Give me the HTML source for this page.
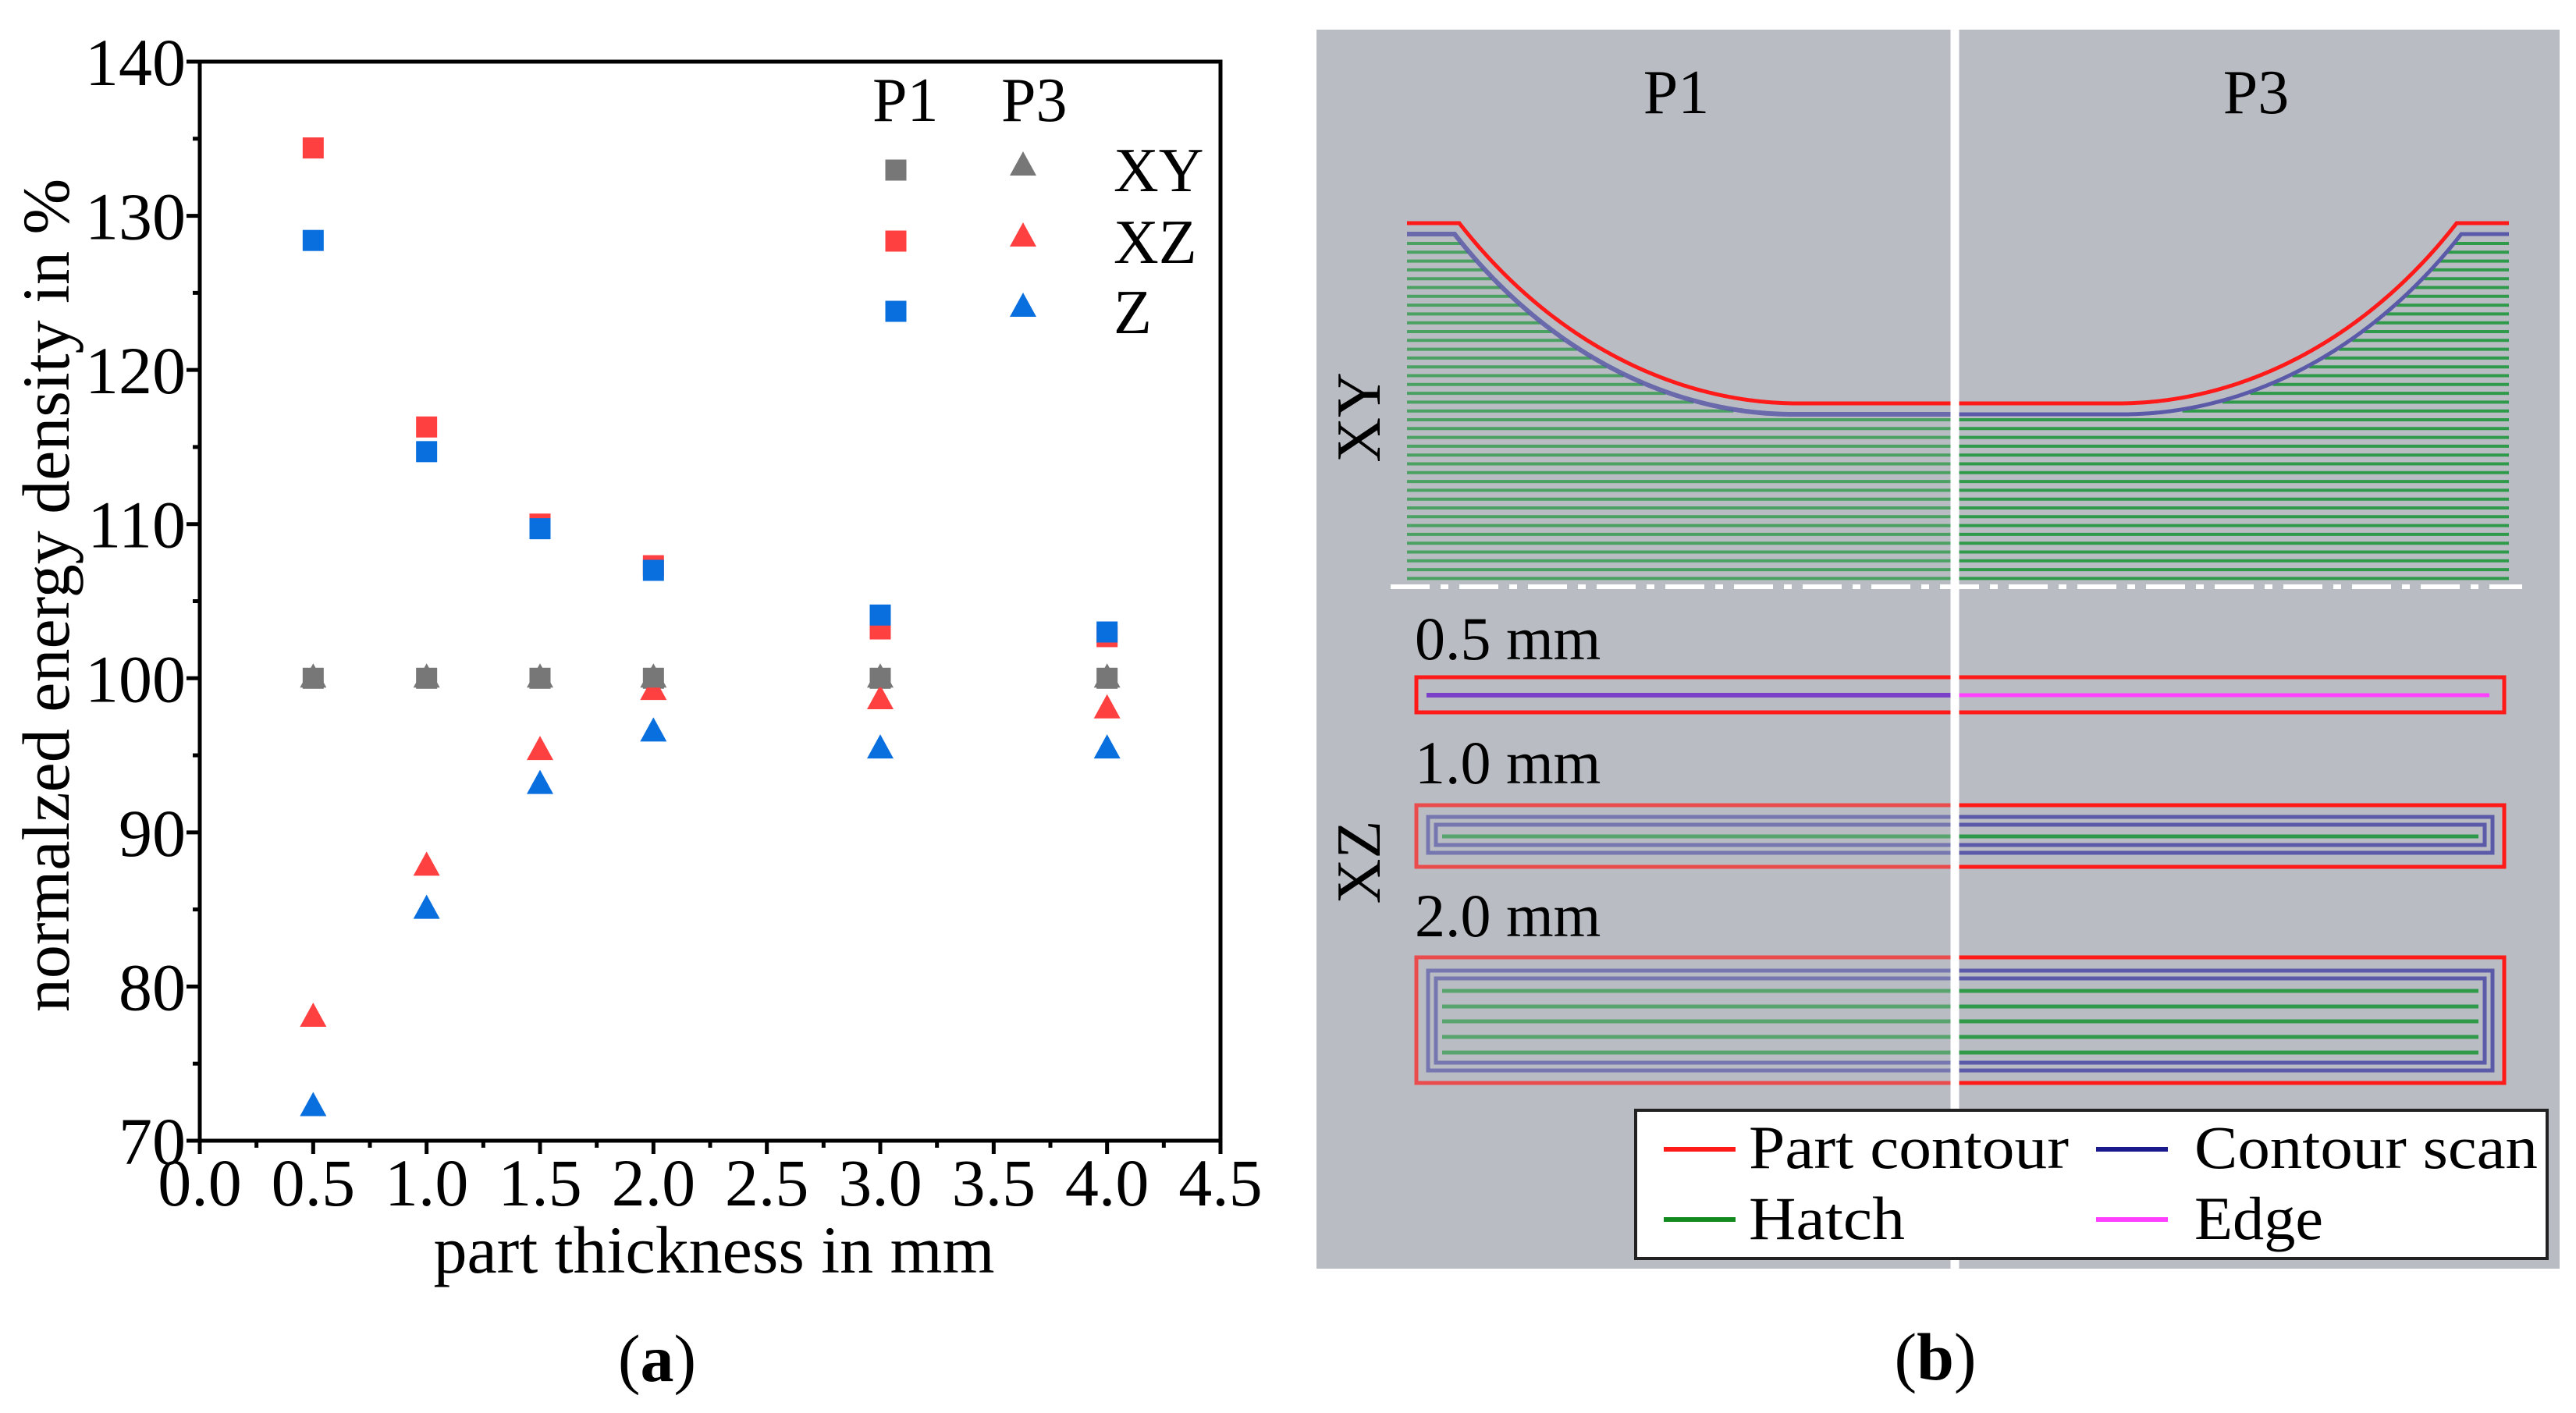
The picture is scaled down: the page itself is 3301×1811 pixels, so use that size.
<!DOCTYPE html>
<html><head><meta charset="utf-8"><style>
html,body{margin:0;padding:0;background:#fff;}
svg{display:block;font-family:"Liberation Serif",serif;}
</style></head><body>
<svg id="fig" width="3301" height="1811" viewBox="0 0 3301 1811">
<rect x="0" y="0" width="3301" height="1811" fill="#fff"/>
<g id="chartA"></g>
<g id="panelB"></g>
</svg>
<script>
// ---- chart data ----
const thickness = [0.5, 1.0, 1.5, 2.0, 3.0, 4.0];
const xyP1 = [100, 100, 100, 100, 100, 100];
const xyP3 = [100, 100, 100, 100, 100, 100];
const xzP1 = [134.4, 116.3, 110.0, 107.3, 103.2, 102.7];
const zP1 = [128.4, 114.7, 109.7, 107.0, 104.1, 103.0];
const xzP3 = [78.0, 87.8, 95.3, 99.2, 98.6, 98.0];
const zP3 = [72.2, 85.0, 93.1, 96.5, 95.4, 95.4];
const xTicks = ["0.0","0.5","1.0","1.5","2.0","2.5","3.0","3.5","4.0","4.5"];
const yTicks = ["70","80","90","100","110","120","130","140"];

const NS = "http://www.w3.org/2000/svg";
function mk(parent, tag, attrs, text){
  const e = document.createElementNS(NS, tag);
  for (const k in attrs) e.setAttribute(k, attrs[k]);
  if (text !== undefined) e.textContent = text;
  parent.appendChild(e);
  return e;
}
const X0=256, X1=1564, Y0=1462, Y1=79;
const xs = v => X0 + (v-0)/(4.5-0)*(X1-X0);
const ys = v => Y0 - (v-70)/(140-70)*(Y0-Y1);
const GREY="#777777", RED="#ff4040", BLUE="#0a6fde";

const A = document.getElementById('chartA');
let e;
e = mk(A,'rect',{x:X0,y:Y1,width:X1-X0,height:Y0-Y1,fill:'none',stroke:'#000','stroke-width':5});
 
xTicks.forEach((t,i)=>{
  const v = parseFloat(t), x = xs(v);
  const tk = mk(A,'line',{x1:x,y1:Y0,x2:x,y2:Y0+17,stroke:'#000','stroke-width':5});
   
  const lb = mk(A,'text',{x:x,y:Y0+83,'font-size':86,'text-anchor':'middle'},t);
   
  if (i < xTicks.length-1){
    const xm = xs(v+0.25);
    const mt = mk(A,'line',{x1:xm,y1:Y0,x2:xm,y2:Y0+9,stroke:'#000','stroke-width':5});
     
  }
});
yTicks.forEach((t,i)=>{
  const v = parseFloat(t), y = ys(v);
  const tk = mk(A,'line',{x1:X0-17,y1:y,x2:X0,y2:y,stroke:'#000','stroke-width':5});
   
  const lb = mk(A,'text',{x:X0-18,y:y+30,'font-size':86,'text-anchor':'end'},t);
   
  if (i < yTicks.length-1){
    const ym = ys(v+5);
    const mt = mk(A,'line',{x1:X0-9,y1:ym,x2:X0,y2:ym,stroke:'#000','stroke-width':5});
     
  }
});
e = mk(A,'text',{x:915,y:1631,'font-size':86,'text-anchor':'middle'},'part thickness in mm');
 
e = mk(A,'text',{x:0,y:0,'font-size':86,'text-anchor':'middle',transform:'translate(88,763) rotate(-90)'},'normalzed energy density in %');
 
e = mk(A,'text',{x:842,y:1770,'font-size':86,'text-anchor':'middle'});
 
e.innerHTML = '(<tspan font-weight="bold">a</tspan>)';

function square(cx,cy,col,name){
  const s = mk(A,'rect',{x:cx-13.5,y:cy-13.5,width:27,height:27,fill:col});
   
}
function tri(cx,cy,col,name){
  const p = mk(A,'polygon',{points:`${cx},${cy-19} ${cx+17},${cy+12} ${cx-17},${cy+12}`,fill:col});
   
}
const seriesSq = [[xzP1,RED,'xz-p1-point'],[zP1,BLUE,'z-p1-point'],[xyP1,GREY,'xy-p1-point']];
const seriesTr = [[xzP3,RED,'xz-p3-point'],[zP3,BLUE,'z-p3-point'],[xyP3,GREY,'xy-p3-point']];
seriesSq.forEach(([arr,c,n])=>arr.forEach((v,i)=>square(xs(thickness[i]),ys(v),c,n)));
seriesTr.forEach(([arr,c,n])=>arr.forEach((v,i)=>tri(xs(thickness[i]),ys(v),c,n)));

e = mk(A,'text',{x:1118,y:155,'font-size':80},'P1');  
e = mk(A,'text',{x:1283,y:155,'font-size':80},'P3');  
[[GREY,'XY',218,245],[RED,'XZ',309,337],[BLUE,'Z',399,427]].forEach(([c,l,my,ty])=>{
  square(1148,my,c,'legend-square');
  tri(1311,my-5,c,'legend-triangle');
  const t = mk(A,'text',{x:1427,y:ty,'font-size':80},l);
   
});

// ---- panel b ----
const B = document.getElementById('panelB');
const PR="#ff1a1a", PB="#5a5aa8", PG="#2e9a4a", PM="#ff40ff";
e = mk(B,'rect',{x:1687,y:38,width:1593,height:1588,fill:'#b9bcc3'});
 
e = mk(B,'text',{x:2148,y:145,'font-size':80,'text-anchor':'middle'},'P1');  
e = mk(B,'text',{x:2891,y:145,'font-size':80,'text-anchor':'middle'},'P3');  
e = mk(B,'text',{x:0,y:0,'font-size':80,'text-anchor':'middle',transform:'translate(1768,535) rotate(-90)'},'XY');  
e = mk(B,'text',{x:0,y:0,'font-size':80,'text-anchor':'middle',transform:'translate(1768,1105) rotate(-90)'},'XZ');  

function bez(t,p0,p1,p2,p3){const u=1-t;return u*u*u*p0+3*u*u*t*p1+3*u*t*t*p2+t*t*t*p3;}
const cP=[[1870,286],[1990,440],[2150,517],[2304,517]];
const samples=[];
for(let i=0;i<=200;i++){const t=i/200;samples.push([bez(t,cP[0][0],cP[1][0],cP[2][0],cP[3][0]),bez(t,cP[0][1],cP[1][1],cP[2][1],cP[3][1])]);}
function curveX(y){
  for(let i=1;i<samples.length;i++){const a=samples[i-1],b=samples[i];if(y>=a[1]&&y<=b[1]){const f=(y-a[1])/((b[1]-a[1])||1);return a[0]+f*(b[0]-a[0]);}}
  return y<286?1870:2304;
}
const hatch = mk(B,'g',{stroke:PG,'stroke-width':4});
 
for(let y=312;y<=745;y+=11.3){
  const xl = y<530 ? Math.min(2507, curveX(y-16)-6) : 2507;
  const xr = y<530 ? Math.max(2507, 5018-xl) : 2507;
  mk(hatch,'line',{x1:1803,y1:y,x2:xl,y2:y,'stroke-opacity':0.8});
  mk(hatch,'line',{x1:xr,y1:y,x2:3215,y2:y});
}
function contourPath(dy, dx){
  let d=`M1803,${286+dy} L${1870-dx},${286+dy} `;
  samples.forEach(p=>{d+=`L${p[0]-dx},${p[1]+dy} `;});
  d+=`L2507,${517+dy}`;
  return d;
}
function contourPathR(dy, dx){
  let d=`M3215,${286+dy} L${5018-1870+dx},${286+dy} `;
  samples.forEach(p=>{d+=`L${5018-p[0]+dx},${p[1]+dy} `;});
  d+=`L2507,${517+dy}`;
  return d;
}
e = mk(B,'path',{d:contourPath(14,6),fill:'none',stroke:PB,'stroke-width':6,'stroke-opacity':0.85});  
e = mk(B,'path',{d:contourPath(0,0),fill:'none',stroke:PR,'stroke-width':5});  
e = mk(B,'path',{d:contourPathR(14,6),fill:'none',stroke:PB,'stroke-width':5});  
e = mk(B,'path',{d:contourPathR(0,0),fill:'none',stroke:PR,'stroke-width':5});  
e = mk(B,'line',{x1:1782,y1:752,x2:3232,y2:752,stroke:'#fff','stroke-width':6,'stroke-dasharray':'50 14 10 14'});  

e = mk(B,'text',{x:1813,y:845,'font-size':78},'0.5 mm');  
e = mk(B,'text',{x:1813,y:1004,'font-size':78},'1.0 mm');  
e = mk(B,'text',{x:1813,y:1200,'font-size':78},'2.0 mm');  
e = mk(B,'rect',{x:1815,y:868,width:1394,height:45,fill:'none',stroke:PR,'stroke-width':5});  
e = mk(B,'line',{x1:1828,y1:891,x2:2507,y2:891,stroke:'#7a40c8','stroke-width':6});  
e = mk(B,'line',{x1:2507,y1:891,x2:3190,y2:891,stroke:PM,'stroke-width':5});  
e = mk(B,'rect',{x:1815,y:1032,width:1394,height:79,fill:'none',stroke:PR,'stroke-width':5});  
e = mk(B,'rect',{x:1830,y:1047,width:1364,height:46,fill:'none',stroke:PB,'stroke-width':5});  
e = mk(B,'rect',{x:1840,y:1057,width:1344,height:26,fill:'none',stroke:PB,'stroke-width':5});  
e = mk(B,'line',{x1:1848,y1:1072,x2:3176,y2:1072,stroke:PG,'stroke-width':5});  
e = mk(B,'rect',{x:1815,y:1227,width:1394,height:161,fill:'none',stroke:PR,'stroke-width':5});  
e = mk(B,'rect',{x:1830,y:1244,width:1364,height:128,fill:'none',stroke:PB,'stroke-width':5});  
e = mk(B,'rect',{x:1840,y:1254,width:1344,height:108,fill:'none',stroke:PB,'stroke-width':5});  
[1270,1290,1309,1329,1349].forEach(y=>{
  const l = mk(B,'line',{x1:1848,y1:y,x2:3176,y2:y,stroke:PG,'stroke-width':5});
   
});
// P1 half faded overlays (only over shapes)
[[1810,1027,90],[1810,1222,172]].forEach(([x,y,h])=>{
  const f = mk(B,'rect',{x:x,y:y,width:697,height:h,fill:'#b9bcc3','fill-opacity':0.3});
   
});
e = mk(B,'line',{x1:2505,y1:38,x2:2505,y2:1626,stroke:'#fff','stroke-width':11});  

const LG = mk(B,'g',{});  
e = mk(LG,'rect',{x:2096,y:1423,width:1168,height:190,fill:'#fff',stroke:'#222','stroke-width':4});  
[[2132,1473,PR,2241,1497,'Part contour',410],[2686,1473,'#1a1a8c',2812,1497,'Contour scan',440],[2132,1563,'#138a20',2241,1588,'Hatch',200],[2686,1563,PM,2812,1588,'Edge',165]].forEach(([lx,ly,c,tx,ty,t,w])=>{
  const ln = mk(LG,'line',{x1:lx,y1:ly,x2:lx+92,y2:ly,stroke:c,'stroke-width':6});
   
  const tt = mk(LG,'text',{x:tx,y:ty,'font-size':78,textLength:w,lengthAdjust:'spacingAndGlyphs'},t);
   
});
e = mk(B,'text',{x:2480,y:1768,'font-size':86,'text-anchor':'middle'});  
e.innerHTML = '(<tspan font-weight="bold">b</tspan>)';
</script>
</body></html>
